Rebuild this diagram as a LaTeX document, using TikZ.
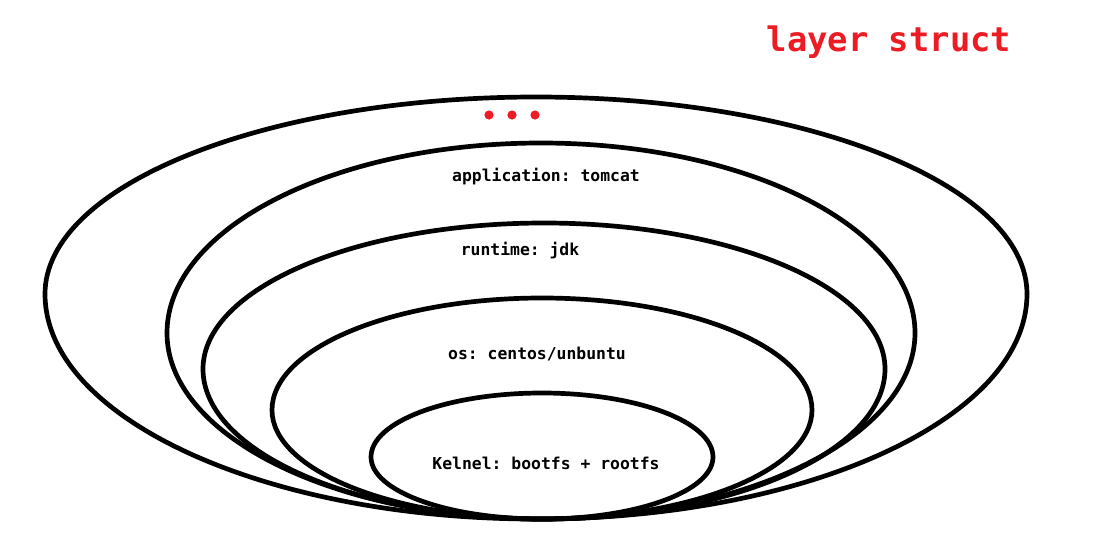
\documentclass[tikz,border=0pt]{standalone}
\usepackage{fontspec}
\setmonofont{DejaVu Sans Mono}
\definecolor{layred}{RGB}{237,28,36}
\tikzset{
  layer/.style={line width=4.7pt,black},
  lbl/.style={font=\ttfamily\bfseries\fontsize{16.4}{18}\selectfont,inner sep=0pt},
}
\begin{document}
\begin{tikzpicture}[x=1pt,y=-1pt,font=\ttfamily\bfseries]
		\useasboundingbox (0,0) rectangle (1106,546);
		% layers: centre x, widest y, half width, top and bottom half height
		\foreach \cx/\cy/\rx/\rt/\rb in {536/294/491/197/225,541/333/374/190/186,544/369/341/146/150,542/410/270/112/109,542/457/171/64/62}
			\draw[layer] (\cx-\rx,\cy) arc[start angle=180,end angle=360,x radius=\rx,y radius=\rt]
				arc[start angle=0,end angle=180,x radius=\rx,y radius=\rb] -- cycle;
		\node[text=layred,inner sep=0pt,font=\ttfamily\bfseries\fontsize{33.8}{36}\selectfont] (title) at (889,42) {layer struct};
		\foreach \x in {489,512,535}\fill[layred] (\x,115) circle(4.6);
		\node[lbl] (app) at (546,177) {application: tomcat};
		\node[lbl] (runtime) at (520,251) {runtime: jdk};
		\node[lbl] (os) at (537,354) {os: centos/unbuntu};
		\node[lbl] (kernel) at (546,463) {Kelnel: bootfs + rootfs};
\end{tikzpicture}
\end{document}
